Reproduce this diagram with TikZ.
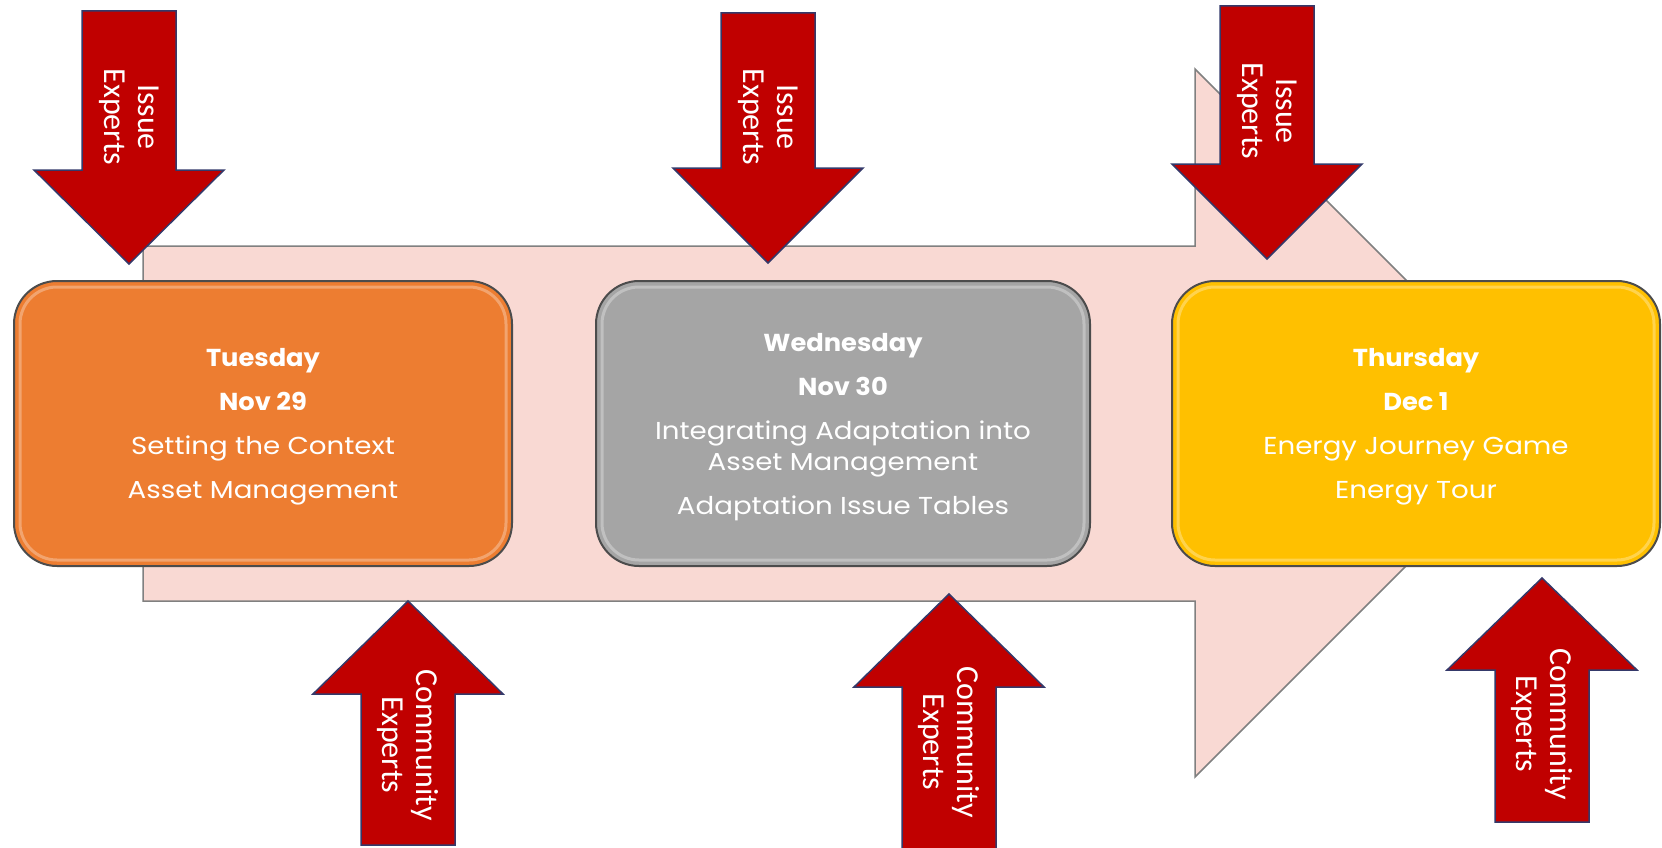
\documentclass[tikz,border=0pt]{standalone}
\usepackage{fontspec}
\setmainfont{Poppins}[FakeStretch=1.13,BoldFeatures={FakeStretch=1.05}]
\newfontfamily\arrowfont{Carlito}
\begin{document}
\begin{tikzpicture}[x=1pt,y=-1pt,
  dayframe/.style={draw=black!70,line width=2pt,rounded corners=43pt,minimum height=285pt,
    align=center,text=white,font=\fontsize{24.5}{31}\selectfont},
  shine/.style={white,opacity=0.3,line width=3pt,rounded corners=37pt},
  redarrow/.style={fill=expertred,draw=expertedge,line width=1.5pt,line join=miter},
  arrowtext/.style={rotate=-90,align=center,text=white,font=\arrowfont\fontsize{32}{34}\selectfont}]
 \definecolor{flowpink}{HTML}{F9D9D3}
 \definecolor{dayorange}{HTML}{ED7D31}
 \definecolor{daygray}{HTML}{A5A5A5}
 \definecolor{dayyellow}{HTML}{FFC000}
 \definecolor{expertred}{HTML}{C00000}
 \definecolor{expertedge}{HTML}{34396A}
 \useasboundingbox [fill=white] (0,0) rectangle (1662,848);
 \draw [fill=flowpink,draw=black!50,line width=1.5pt] (143,246) -- (1195,246) -- (1195,69) -- (1549,423) -- (1195,777) -- (1195,601) -- (143,601) -- cycle;
 \node [dayframe,fill=dayorange,minimum width=498pt] (tue) at (263,423.5) {};
 \node [align=center,text=white,font=\fontsize{24.5}{31}\selectfont] (tuetext) at (263,427) {\textbf{Tuesday}\\[13pt]\textbf{Nov 29}\\[13pt]Setting the Context\\[13pt]Asset Management};
 \node [dayframe,fill=daygray,minimum width=494pt] (wed) at (843,423.5) {};
 \node [align=center,text=white,font=\fontsize{24.5}{31}\selectfont] (wedtext) at (843,427) {\textbf{Wednesday}\\[13pt]\textbf{Nov 30}\\[13pt]Integrating Adaptation into\\Asset Management\\[13pt]Adaptation Issue Tables};
 \node [dayframe,fill=dayyellow,minimum width=488pt] (thu) at (1416,423.5) {};
 \node [align=center,text=white,font=\fontsize{24.5}{31}\selectfont] (thutext) at (1416,427) {\textbf{Thursday}\\[13pt]\textbf{Dec 1}\\[13pt]Energy Journey Game\\[13pt]Energy Tour};
 \draw [shine] ([shift={(7pt,-7pt)}]tue.north west) rectangle ([shift={(-7pt,7pt)}]tue.south east);
 \draw [shine] ([shift={(7pt,-7pt)}]wed.north west) rectangle ([shift={(-7pt,7pt)}]wed.south east);
 \draw [shine] ([shift={(7pt,-7pt)}]thu.north west) rectangle ([shift={(-7pt,7pt)}]thu.south east);
 \draw [redarrow] (82,11) -- (176,11) -- (176,170) -- (224,170) -- (129,264) -- (34,170) -- (82,170) -- cycle;
 \node [arrowtext] (issue1) at (129,117) {Issue\\Experts};
 \draw [redarrow] (721,13) -- (815,13) -- (815,168) -- (863,168) -- (768,263) -- (673,168) -- (721,168) -- cycle;
 \node [arrowtext] (issue2) at (768,117) {Issue\\Experts};
 \draw [redarrow] (1220,6) -- (1314,6) -- (1314,164) -- (1362,164) -- (1267,259) -- (1172,164) -- (1220,164) -- cycle;
 \node [arrowtext] (issue3) at (1267,111) {Issue\\Experts};
 \draw [redarrow] (361,845) -- (455,845) -- (455,694) -- (503,694) -- (408,601) -- (313,694) -- (361,694) -- cycle;
 \node [arrowtext] (community1) at (408,745) {Community\\Experts};
 \draw [redarrow] (902,852) -- (996,852) -- (996,687) -- (1044,687) -- (949,594) -- (854,687) -- (902,687) -- cycle;
 \node [arrowtext] (community2) at (949,742) {Community\\Experts};
 \draw [redarrow] (1495,822) -- (1589,822) -- (1589,670) -- (1637,670) -- (1542,578) -- (1447,670) -- (1495,670) -- cycle;
 \node [arrowtext] (community3) at (1542,724) {Community\\Experts};
\end{tikzpicture}
\end{document}
